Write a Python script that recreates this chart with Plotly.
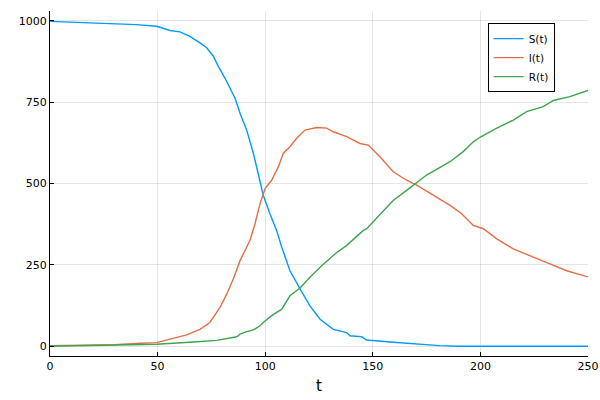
import plotly.graph_objects as go

# --- data ---
t_S = [0, 10, 20, 30, 40, 49.6, 55.8, 60.4, 65, 69.7, 72.8, 75.9, 78.2, 81.3, 83.6, 86, 88.3,
       91.4, 94.5, 96.8, 99.1, 102.2, 105.3, 107.7, 111.5, 116.2, 120.8, 125.5, 131.6, 137.9,
       139.4, 144.8, 147.2, 158, 170, 181, 190, 200, 250]
S = [998, 996, 994, 991, 988, 983, 970, 966, 952, 932, 917, 891, 860, 824, 793, 762, 716,
     664, 593, 531, 464, 407, 356, 304, 232, 176, 124, 83, 52, 42,
     32, 29, 19, 13, 7, 2, 0, 0, 0]

t_I = [0, 10, 20, 30, 41.8, 49.6, 55.8, 63.5, 69.7, 74.3, 79, 82.1, 85.2, 88.3, 92.9, 95.3,
       97.6, 100, 103, 106.1, 108.4, 111.5, 114.6, 118.5, 123.9, 128.6, 131.6, 137.9, 144,
       147.9, 153.3, 159.5, 165.7, 170.4, 178.1, 185.9, 191.3, 196.7, 201.4, 207.6, 215.3,
       223, 232.3, 240.1, 250]
I = [2, 3, 4, 5, 9, 11, 22, 35, 52, 73, 119, 160, 207, 263, 325, 377,
     438, 485, 510, 551, 593, 613, 639, 664, 672, 670, 659, 644, 623,
     618, 582, 536, 510, 495, 464, 433, 407, 371, 361, 330, 299,
     279, 253, 232, 213]

t_R = [0, 20, 40, 49.6, 66.6, 77.5, 86.8, 88.3, 91.4, 94.5, 97.6, 99.1, 103, 107.7, 111.5,
       116.2, 120.8, 125.5, 132.5, 137.9, 145.6, 147.2, 153.3, 159.5, 165.7, 175, 185.9, 192,
       196.7, 199.8, 207.6, 215.3, 221.5, 229.2, 233.9, 241.6, 250]
R = [0, 2, 4, 6, 13, 18, 29, 37, 45, 50, 63, 73, 94, 114, 155,
     179, 212, 243, 284, 310, 356, 361, 405, 448, 479, 526, 567, 598,
     628, 642, 670, 695, 721, 736, 755, 767, 786]

names = ["S(t)", "I(t)", "R(t)"]
colors = ["#009AFA", "#E36F47", "#3EA44E"]

x_ticks = [0, 50, 100, 150, 200, 250]
y_ticks = [0, 250, 500, 750, 1000]

fig = go.Figure()
for tt, vv, nm, c in zip([t_S, t_I, t_R], [S, I, R], names, colors):
    fig.add_trace(go.Scatter(x=tt, y=vv, mode="lines", name=nm,
                             line=dict(color=c, width=1.4)))

axis_common = dict(
    showline=True, linecolor="black", linewidth=1,
    showgrid=True, gridcolor="rgba(0,0,0,0.1)", gridwidth=1,
    zeroline=False, ticks="inside", ticklen=4, tickcolor="black",
    tickfont=dict(family="DejaVu Sans", size=11, color="black"),
    automargin=False, ticklabeloverflow="allow",
)

fig.update_layout(
    width=600, height=400,
    margin=dict(l=50, r=12, t=11, b=44),
    paper_bgcolor="white", plot_bgcolor="white",
    xaxis=dict(range=[0, 250], tickvals=x_ticks,
               title=dict(text="t", font=dict(family="DejaVu Sans", size=15, color="black"),
                          standoff=8),
               **axis_common),
    yaxis=dict(range=[-30, 1030], tickvals=y_ticks, **axis_common),
    legend=dict(x=0.938, y=0.965, xanchor="right", yanchor="top",
                bgcolor="white", bordercolor="black", borderwidth=1,
                font=dict(family="DejaVu Sans", size=10.5, color="black"),
                tracegroupgap=0, itemwidth=30),
    showlegend=True,
)

fig.write_html("out.html",
               config={"displayModeBar": False},
               post_script="document.body.style.margin='0';document.body.style.overflow='hidden';")
